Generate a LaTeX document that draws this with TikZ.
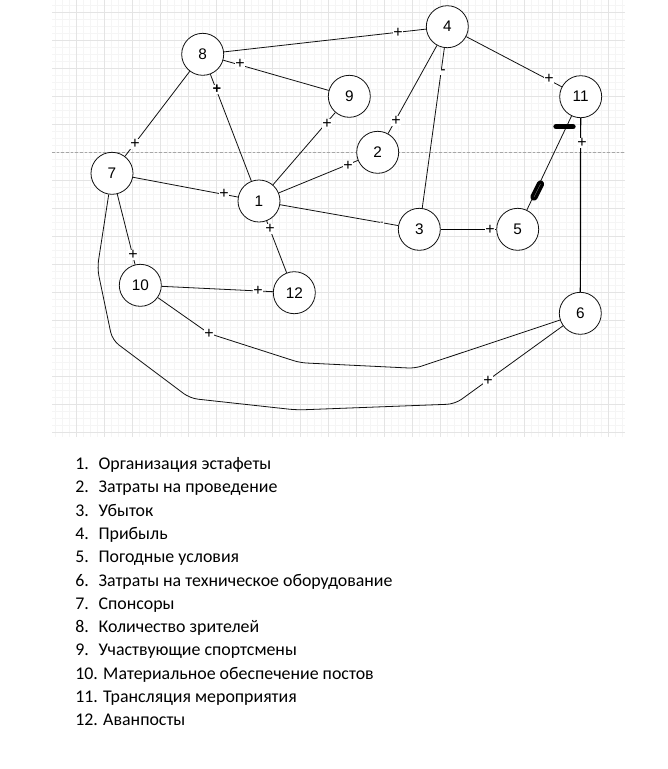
\documentclass[tikz,border=0pt]{standalone}
\usepackage{fontspec}
\setmainfont{Carlito}
\newfontfamily\arialf{Liberation Sans}
\definecolor{gminor}{HTML}{F5F5F5}
\definecolor{gmajor}{HTML}{E4E4E4}
\definecolor{edgec}{HTML}{111111}
\begin{document}
\begin{tikzpicture}[x=0.75pt,y=-0.75pt,
  vtx/.style={circle,draw=edgec,line width=0.6pt,fill=white,minimum size=31.5pt,inner sep=0pt,font=\arialf\fontsize{11.5}{12}\selectfont},
  edg/.style={draw=edgec,line width=0.6pt},
  edgb/.style={draw=black,line width=0.9pt},
  sgn/.style={fill=white,inner sep=0.5pt,font=\arialf\fontsize{12}{12}\selectfont},
  listtxt/.style={anchor=base west,inner sep=0pt,font=\fontsize{13.4}{16}\selectfont}]
\useasboundingbox (0,0) rectangle (668,769);
\fill[white] (0,0) rectangle (668,769);
% grid
\foreach \k in {5,...,86} \draw[gminor,line width=0.5pt] ({20.7+7*\k},0) -- ({20.7+7*\k},437);
\foreach \k in {-1,...,60} \draw[gminor,line width=0.5pt] (52,{12.3+7*\k}) -- (625,{12.3+7*\k});
\foreach \k in {2,...,21} \draw[gmajor,line width=0.6pt] ({20.7+28*\k},0) -- ({20.7+28*\k},437);
\foreach \k in {0,...,15} \draw[gmajor,line width=0.6pt] (52,{12.3+28*\k}) -- (625,{12.3+28*\k});
\draw[gray!70,line width=0.4pt,dash pattern=on 2pt off 1.5pt] (52,152.3) -- (625,152.3);
% nodes
\node[vtx] (n1) at (259,201) {1};
\node[vtx] (n2) at (377.7,152.3) {2};
\node[vtx] (n3) at (419.3,229.3) {3};
\node[vtx] (n4) at (447.3,26.7) {4};
\node[vtx] (n5) at (517.7,229.3) {5};
\node[vtx] (n6) at (580.3,313.3) {6};
\node[vtx] (n7) at (112,173.3) {7};
\node[vtx] (n8) at (202.7,54.3) {8};
\node[vtx] (n9) at (349.3,96.3) {9};
\node[vtx] (n10) at (140.3,285.3) {10};
\node[vtx] (n11) at (580.7,96.7) {11};
\node[vtx] (n12) at (294.3,292.7) {12};
% edges
\path[edg] (n8) -- (n4);
\path[edg] (n8) -- (n9);
\path[edg] (n8) -- (n1);
\path[edg] (n8) -- (n7);
\path[edg] (n9) -- (n1);
\path[edg] (n2) -- (n1);
\path[edg] (n7) -- (n1);
\path[edg] (n1) -- (n3);
\path[edg] (n4) -- (n2);
\path[edg] (n4) -- (n3);
\path[edg] (n4) -- (n11);
\path[edg] (n11) -- (n5);
\path[edgb] (n11) -- (n6);
\path[edgb] (n3) -- (n5);
\path[edg] (n1) -- (n12);
\path[edg] (n7) -- (n10);
\path[edg] (n10) -- (n12);
\path[edg,rounded corners=5pt] (n10) -- (209,333.5) -- (300,362.7) -- (415,368.3) -- (n6);
\path[edg,rounded corners=6pt] (n7) -- (97.3,268.3) -- (112.3,340) -- (190,398.3) -- (296.7,410) -- (455,404) -- (n6);
% signs
\node[sgn] (s84) at (398,33) {+};
\node[sgn] (s89) at (240,64) {+};
\node[sgn,font=\arialf\bfseries\fontsize{11}{11}\selectfont] (s81) at (217,89.5) {+};
\node[sgn] (s87) at (135,144) {+};
\node[sgn] (s91) at (327,124) {+};
\node[sgn] (s21) at (348,166) {+};
\node[sgn] (s71) at (224,194) {+};
\node[sgn,inner sep=0.3pt,font=\arialf\fontsize{8}{8}\selectfont] (s13) at (382,223.5) {-};
\node[sgn] (s42) at (396,121) {+};
\node[sgn] (s43) at (443,72) {-};
\node[sgn] (s411) at (549,79) {+};
\node[sgn] (s116) at (582,143) {+};
\node[sgn] (s35) at (490,229.5) {+};
\node[sgn] (s112) at (270,229) {+};
\node[sgn] (s710) at (133,255) {+};
\node[sgn] (s1012) at (258,290.5) {+};
\node[sgn] (s106) at (209,333.5) {+};
\node[sgn] (s76) at (488,381) {+};
% marks on 11-5
\draw[black,line width=4pt,line cap=round] (556,126.7) -- (573,126.7);
\draw[black,line width=2.6pt,line cap=round,double=gray,double distance=0.3pt] (534,197) -- (540.5,184);
% list
\foreach \i/\t in {1/Организация эстафеты,2/Затраты на проведение,3/Убыток,4/Прибыль,5/Погодные условия,6/Затраты на техническое оборудование,7/Спонсоры,8/Количество зрителей,9/Участвующие спортсмены}{
  \node[listtxt] (num\i) at (75,{469.5+23.3*(\i-1)}) {\i.};
  \node[listtxt] (txt\i) at (98.3,{469.5+23.3*(\i-1)}) {\t};
}
\node[listtxt] (txt10) at (75,{469.5+23.3*9}) {10.\kern0.3em Материальное обеспечение постов};
\node[listtxt] (txt11) at (75,{469.5+23.3*10}) {11.\kern0.3em Трансляция мероприятия};
\node[listtxt] (txt12) at (75,{469.5+23.3*11}) {12.\kern0.3em Аванпосты};
\end{tikzpicture}
\end{document}
